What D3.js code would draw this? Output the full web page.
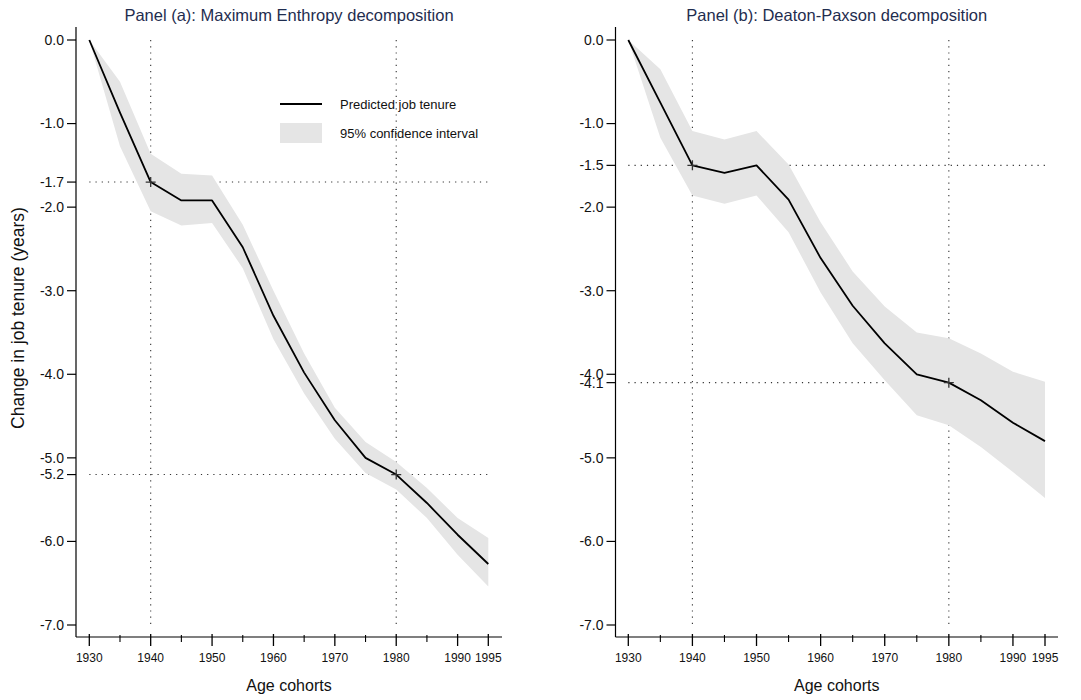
<!DOCTYPE html>
<html>
<head>
<meta charset="utf-8">
<script src="https://cdn.jsdelivr.net/npm/d3@7"></script>
<style>
  html, body { margin: 0; padding: 0; background: #fff; }
  svg { display: block; font-family: "Liberation Sans", Arial, sans-serif; }
</style>
</head>
<body>
<svg id="chart" width="1081" height="700"></svg>
<script>
// Birth cohorts on the horizontal axis
const years = [1930, 1935, 1940, 1945, 1950, 1955, 1960, 1965, 1970, 1975, 1980, 1985, 1990, 1995];

// Panel (a): Maximum Entropy decomposition
const tenureA = [0, -0.87, -1.7, -1.92, -1.92, -2.48, -3.3, -3.98, -4.55, -5.0, -5.2, -5.54, -5.92, -6.27];
const upperA  = [0, -0.5, -1.36, -1.6, -1.62, -2.21, -3.0, -3.75, -4.4, -4.81, -5.05, -5.36, -5.72, -5.96];
const lowerA  = [0, -1.27, -2.05, -2.22, -2.19, -2.73, -3.58, -4.23, -4.77, -5.18, -5.38, -5.72, -6.16, -6.54];

// Panel (b): Deaton-Paxson decomposition
const tenureB = [0, -0.75, -1.5, -1.59, -1.5, -1.91, -2.61, -3.18, -3.63, -4.0, -4.1, -4.31, -4.58, -4.8];
const upperB  = [0, -0.35, -1.09, -1.19, -1.09, -1.49, -2.18, -2.77, -3.19, -3.5, -3.57, -3.75, -3.97, -4.09];
const lowerB  = [0, -1.17, -1.86, -1.96, -1.86, -2.3, -3.02, -3.63, -4.07, -4.49, -4.61, -4.87, -5.17, -5.48];

// Axis ticks
const yTicksA = [0, -1, -1.7, -2, -3, -4, -5, -5.2, -6, -7];
const yTicksB = [0, -1, -1.5, -2, -3, -4, -4.1, -5, -6, -7];
const xMajor = [1930, 1940, 1950, 1960, 1970, 1980, 1990, 1995];
const xMinor = [1935, 1945, 1955, 1965, 1975, 1985];

// Reference cohorts and their predicted values
const refYears = [1940, 1980];
const refA = [-1.7, -5.2];
const refB = [-1.5, -4.1];

const titles = ["Panel (a): Maximum Enthropy decomposition", "Panel (b): Deaton-Paxson decomposition"];
const legendLabels = ["Predicted job tenure", "95% confidence interval"];

const svg = d3.select("#chart");
const bandColor = "#e5e5e5";

// One decimal, plain hyphen for negatives
const fmt = d => d3.format(".1f")(d).replace("\u2212", "-");

const y = d3.scaleLinear().domain([0, -7]).range([40, 625]);

const panels = [
  { axisX: 76, x0: 89.3, x1: 488.3, axisEnd: 502, tenure: tenureA, upper: upperA, lower: lowerA,
    yTicks: yTicksA, refs: refA, title: titles[0], legend: true, yTitle: true },
  { axisX: 615.5, x0: 628.3, x1: 1045, axisEnd: 1058, tenure: tenureB, upper: upperB, lower: lowerB,
    yTicks: yTicksB, refs: refB, title: titles[1], legend: false, yTitle: false }
];

const axisY = 637;

panels.forEach(p => {
  const x = d3.scaleLinear().domain([1930, 1995]).range([p.x0, p.x1]);
  const g = svg.append("g");
  const cx = (p.axisX + p.axisEnd) / 2;

  // Dotted reference lines
  const dotted = g.append("g")
    .attr("stroke", "#333").attr("stroke-width", 1.1).attr("stroke-dasharray", "1.2 5");
  refYears.forEach(yr => {
    dotted.append("line")
      .attr("x1", x(yr)).attr("x2", x(yr))
      .attr("y1", y(0)).attr("y2", y(-7));
  });
  p.refs.forEach(v => {
    dotted.append("line")
      .attr("x1", x(1930)).attr("x2", x(1995))
      .attr("y1", y(v)).attr("y2", y(v));
  });

  // Confidence band
  const rows = years.map((yr, i) => ({ yr, v: p.tenure[i], lo: p.lower[i], hi: p.upper[i] }));
  g.append("path")
    .datum(rows)
    .attr("fill", bandColor)
    .attr("d", d3.area().x(d => x(d.yr)).y0(d => y(d.lo)).y1(d => y(d.hi)));

  // Predicted tenure line
  g.append("path")
    .datum(rows)
    .attr("fill", "none")
    .attr("stroke", "#000")
    .attr("stroke-width", 1.8)
    .attr("stroke-linejoin", "round")
    .attr("d", d3.line().x(d => x(d.yr)).y(d => y(d.v)));

  // Cross markers at the reference cohorts
  refYears.forEach((yr, i) => {
    const mx = x(yr), my = y(p.refs[i]);
    g.append("path")
      .attr("d", `M${mx - 5},${my}H${mx + 5}M${mx},${my - 5}V${my + 5}`)
      .attr("stroke", "#333").attr("stroke-width", 1.3);
  });

  // Y axis
  g.append("line")
    .attr("x1", p.axisX).attr("x2", p.axisX)
    .attr("y1", 27).attr("y2", axisY)
    .attr("stroke", "#000").attr("stroke-width", 1.2);
  const yt = g.append("g").selectAll("g").data(p.yTicks).join("g")
    .attr("transform", d => `translate(${p.axisX},${y(d)})`);
  yt.append("line").attr("x1", -9).attr("x2", 0).attr("stroke", "#000").attr("stroke-width", 1.2);
  yt.append("text")
    .attr("x", -12).attr("dy", "0.35em")
    .attr("text-anchor", "end")
    .attr("font-size", 14)
    .attr("fill", "#111")
    .text(fmt);

  // X axis
  g.append("line")
    .attr("x1", p.axisX).attr("x2", p.axisEnd)
    .attr("y1", axisY).attr("y2", axisY)
    .attr("stroke", "#000").attr("stroke-width", 1.2);
  g.append("g").selectAll("line").data(xMajor).join("line")
    .attr("x1", d => x(d)).attr("x2", d => x(d))
    .attr("y1", axisY - 3).attr("y2", axisY + 9)
    .attr("stroke", "#000").attr("stroke-width", 1.3);
  g.append("g").selectAll("line").data(xMinor).join("line")
    .attr("x1", d => x(d)).attr("x2", d => x(d))
    .attr("y1", axisY - 2).attr("y2", axisY + 5)
    .attr("stroke", "#000").attr("stroke-width", 1.1);
  g.append("g").selectAll("text").data(xMajor).join("text")
    .attr("x", d => x(d)).attr("y", 662)
    .attr("text-anchor", "middle")
    .attr("font-size", 12)
    .attr("fill", "#111")
    .text(d => d);

  // Axis title
  g.append("text")
    .attr("x", cx).attr("y", 691)
    .attr("text-anchor", "middle")
    .attr("font-size", 16)
    .attr("fill", "#111")
    .text("Age cohorts");

  // Panel title
  g.append("text")
    .attr("x", cx).attr("y", 21)
    .attr("text-anchor", "middle")
    .attr("font-size", 16.5)
    .attr("fill", "#1f2d4f")
    .text(p.title);

  if (p.yTitle) {
    g.append("text")
      .attr("transform", `translate(24,318) rotate(-90)`)
      .attr("text-anchor", "middle")
      .attr("font-size", 17.5)
      .attr("fill", "#111")
      .text("Change in job tenure (years)");
  }

  if (p.legend) {
    const lg = g.append("g");
    lg.append("line")
      .attr("x1", 280).attr("x2", 322).attr("y1", 104).attr("y2", 104)
      .attr("stroke", "#000").attr("stroke-width", 2);
    lg.append("rect")
      .attr("x", 280).attr("y", 123).attr("width", 42).attr("height", 20)
      .attr("fill", bandColor);
    lg.selectAll("text").data(legendLabels).join("text")
      .attr("x", 340).attr("y", (d, i) => i === 0 ? 104 : 133)
      .attr("dy", "0.35em")
      .attr("font-size", 13)
      .attr("fill", "#111")
      .text(d => d);
  }
});
</script>
</body>
</html>
